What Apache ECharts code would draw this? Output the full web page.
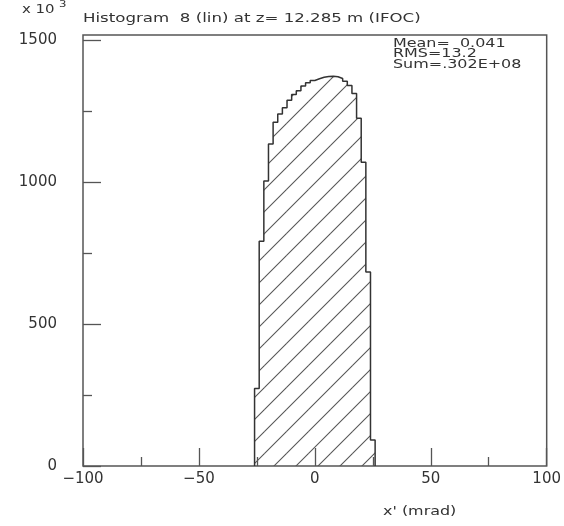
<!DOCTYPE html>
<html>
<head>
<meta charset="utf-8">
<style>
html,body{margin:0;padding:0;background:#ffffff;}
#chart{width:564px;height:526px;}
</style>
<script src="https://cdn.jsdelivr.net/npm/echarts@6/dist/echarts.min.js"></script>
</head>
<body>
<div id="chart"></div>
<script>
// ---- data (y in units of 10^3) ----
const binEdges = [-26,-24,-22,-20,-18,-16,-14,-12,-10,-8,-6,-4,-2,0,2,4,6,8,10,12,14,16,18,20,22,24,26];
const binCounts = [273,792,1004,1134,1211,1240,1262,1288,1308,1322,1338,1350,1358,1364,1369,1372,1373,1371,1365,1355,1340,1312,1225,1070,683,92];
const xTickLabels = [-100,-50,0,50,100];
const yTickLabels = [0,500,1000,1500];
const yMinorTicks = [250,750,1250];
const titleText = 'Histogram  8 (lin) at z= 12.285 m (IFOC)';
const statsLines = ['Mean=  0.041','RMS=13.2','Sum=.302E+08'];
const xAxisTitle = "x' (mrad)";
const yScaleText = 'x 10';
const yScaleExp = '3';

// ---- build step outline points from the bins ----
const histPoints = [[binEdges[0], 0]];
for (let i = 0; i < binCounts.length; i++) histPoints.push([binEdges[i], binCounts[i]]);
histPoints.push([binEdges[binEdges.length - 1], 0]);

// ---- hatch pattern ----
const tile = document.createElement('canvas');
tile.width = 22; tile.height = 22;
const g = tile.getContext('2d');
g.strokeStyle = '#555';
g.lineWidth = 1.1;
[14, 36].forEach(function (c) {
  g.beginPath(); g.moveTo(-4, c + 4); g.lineTo(c + 4, -4); g.stroke();
});

const ink = '#333';
const frame = '#555';
const font = '"DejaVu Sans", Arial, sans-serif';

const chart = echarts.init(document.getElementById('chart'), null, {renderer: 'canvas'});
chart.setOption({
  animation: false,
  backgroundColor: '#ffffff',
  grid: {left: 83, right: 17, top: 35, bottom: 60, show: true, borderColor: frame, borderWidth: 1.5, backgroundColor: 'transparent'},
  xAxis: {
    type: 'value', min: xTickLabels[0], max: xTickLabels[xTickLabels.length - 1], interval: 50,
    axisLine: {show: false, onZero: false},
    axisTick: {show: true, inside: true, length: 18, lineStyle: {color: frame, width: 1.3}},
    minorTick: {show: true, splitNumber: 2, length: 9, lineStyle: {color: frame, width: 1.3}},
    splitLine: {show: false},
    axisLabel: {color: ink, fontFamily: font, fontSize: 15, margin: 6,
      formatter: function (v) { return String(v).replace('-', '\u2212'); }}
  },
  yAxis: [{
    type: 'value', min: 0, max: 1518, position: 'left',
    axisLine: {show: false, onZero: false},
    axisTick: {show: true, inside: true, length: 18, customValues: yTickLabels, lineStyle: {color: frame, width: 1.3}},
    splitLine: {show: false},
    axisLabel: {color: ink, fontFamily: font, fontSize: 15, margin: 26, customValues: yTickLabels,
      formatter: function (v) { return (v % 500 === 0) ? String(v) : ''; }}
  }, {
    type: 'value', min: 0, max: 1518, position: 'left',
    axisLine: {show: false, onZero: false},
    axisTick: {show: true, inside: true, length: 9, customValues: yMinorTicks, lineStyle: {color: frame, width: 1.3}},
    splitLine: {show: false},
    axisLabel: {show: false}
  }],
  series: [{
    type: 'line', xAxisIndex: 0, yAxisIndex: 0, step: 'end', symbol: 'none', silent: true,
    data: histPoints,
    lineStyle: {color: ink, width: 1.5},
    areaStyle: {color: {image: tile, repeat: 'repeat'}, opacity: 1}
  }],
  graphic: [
    {type: 'text', x: 83, y: 19, scaleX: 1.33, style: {text: titleText, font: '12.5px ' + font, fill: ink, align: 'left', verticalAlign: 'middle'}},
    {type: 'text', x: 22, y: 10, scaleX: 1.3, style: {text: yScaleText, font: '11.5px ' + font, fill: ink, align: 'left', verticalAlign: 'middle'}},
    {type: 'text', x: 59, y: 4.5, scaleX: 1.3, style: {text: yScaleExp, font: '9px ' + font, fill: ink, align: 'left', verticalAlign: 'middle'}},
    {type: 'text', x: 393, y: 44, scaleX: 1.4, style: {text: statsLines[0], font: '11.4px ' + font, fill: ink, align: 'left', verticalAlign: 'middle'}},
    {type: 'text', x: 393, y: 54.5, scaleX: 1.4, style: {text: statsLines[1], font: '11.4px ' + font, fill: ink, align: 'left', verticalAlign: 'middle'}},
    {type: 'text', x: 393, y: 65, scaleX: 1.4, style: {text: statsLines[2], font: '11.4px ' + font, fill: ink, align: 'left', verticalAlign: 'middle'}},
    {type: 'text', x: 383, y: 512, scaleX: 1.4, style: {text: xAxisTitle, font: '11.4px ' + font, fill: ink, align: 'left', verticalAlign: 'middle'}}
  ]
});
</script>
</body>
</html>
